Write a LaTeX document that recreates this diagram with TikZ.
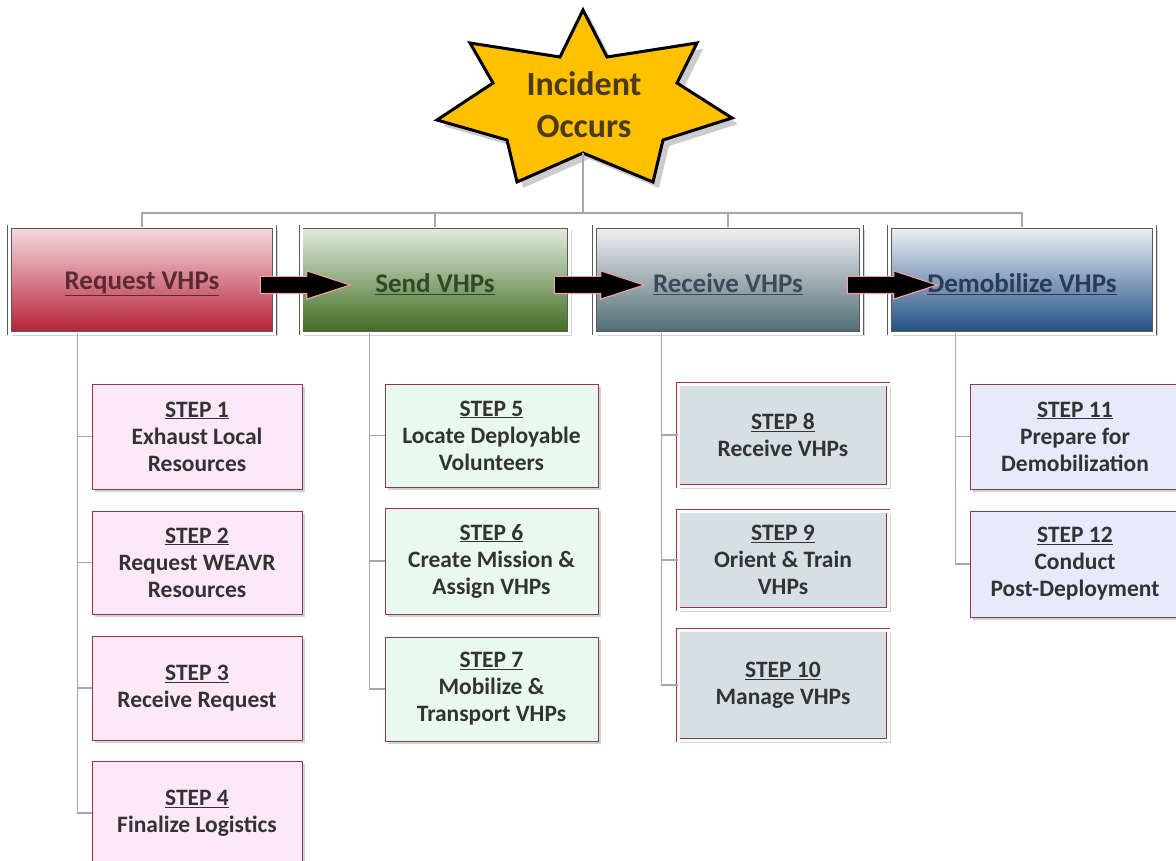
\documentclass[tikz,border=0pt]{standalone}
\usepackage{fontspec}
\setmainfont{Carlito}
\usetikzlibrary{shapes.arrows,shadows,calc}
\definecolor{stargold}{HTML}{FFC000}
\definecolor{startext}{HTML}{4A3B1C}
\definecolor{treegray}{HTML}{A8A8A8}
\definecolor{frame}{HTML}{5A5A5A}
\definecolor{stepborder}{HTML}{8E3A48}
\definecolor{steptext}{HTML}{333333}
\definecolor{reqtop}{HTML}{F6DCE1}\definecolor{reqbot}{HTML}{B51F37}\definecolor{reqtxt}{HTML}{5B2A33}
\definecolor{sndtop}{HTML}{E4EDE0}\definecolor{sndbot}{HTML}{3F6A1F}\definecolor{sndtxt}{HTML}{2F4A2A}
\definecolor{rcvtop}{HTML}{F0F2F4}\definecolor{rcvbot}{HTML}{4F6A74}\definecolor{rcvtxt}{HTML}{3C4A5E}
\definecolor{demtop}{HTML}{EDF1F6}\definecolor{dembot}{HTML}{1F4E82}\definecolor{demtxt}{HTML}{2C3A55}
\definecolor{fillA}{HTML}{FCE8F8}
\definecolor{fillB}{HTML}{E9F9EE}
\definecolor{fillC}{HTML}{D5DFE4}
\definecolor{fillD}{HTML}{E6EAFB}
\definecolor{arrowedge}{HTML}{E8A0A0}
\newcommand{\hdtext}[1]{\raisebox{-4pt}[\height][\depth]{\underline{#1}}}
\begin{document}
\begin{tikzpicture}[x=1pt,y=-1pt,
  tree/.style={draw=treegray,line width=1.2pt},
  header/.style={rectangle,minimum height=106pt,draw=frame,line width=0.8pt,
    double=white,double distance=3pt,
    drop shadow={shadow xshift=3pt,shadow yshift=-3pt,opacity=0.35},
    font=\bfseries\fontsize{27}{31}\selectfont},
  stepbox/.style={rectangle,minimum width=210pt,draw=stepborder,line width=0.8pt,
    drop shadow={shadow xshift=3pt,shadow yshift=-3pt,opacity=0.35},
    align=center,text=steptext,font=\bfseries\fontsize{23.5}{27}\selectfont},
  flowarrow/.style={single arrow,fill=black,draw=arrowedge,line width=1.2pt,
    minimum height=90pt,inner xsep=0pt,inner ysep=8pt,single arrow head extend=5.5pt,
    single arrow tip angle=36}
]
\useasboundingbox (0,0) rectangle (1176,861);
\fill[white] (0,0) rectangle (1176,861);

% star
\fill[black,opacity=0.2] (589,16) -- (613,63) -- (703,49) -- (683,89) -- (738,124) -- (669,146) -- (659,188) -- (589,159) -- (523,188) -- (513,146) -- (443,126) -- (499,89) -- (476,49) -- (566,63) -- cycle;
\draw[fill=stargold,line width=3pt,line join=miter]
  (583,10) -- (607,57) -- (697,43) -- (677,83) -- (732,118) -- (663,140) -- (653,182)
  -- (583,153) -- (517,182) -- (507,140) -- (437,120) -- (493,83) -- (470,43) -- (560,57) -- cycle;
\coordinate (starb) at (583,153);
\node[align=center,text=startext,font=\bfseries\fontsize{34}{42}\selectfont] (star) at (584,105) {Incident\\Occurs};

% header boxes
\node[header,minimum width=265pt,top color=reqtop,bottom color=reqbot,text=reqtxt] (req) at (142,280) {\hdtext{Request VHPs}};
\node[header,minimum width=268pt,top color=sndtop,bottom color=sndbot,text=sndtxt] (snd) at (435,280) {\hdtext{Send VHPs}};
\node[header,minimum width=267pt,top color=rcvtop,bottom color=rcvbot,text=rcvtxt] (rcv) at (728,280) {\hdtext{Receive VHPs}};
\node[header,minimum width=265pt,top color=demtop,bottom color=dembot,text=demtxt] (dem) at (1022,280) {\hdtext{Demobilize VHPs}};

% flow arrows
\node[flowarrow] (a1) at (292,285) {};
\node[flowarrow] (a2) at (586,285) {};
\node[flowarrow] (a3) at (879,285) {};

% tree from star
\coordinate (bus) at (0,213);
\draw[tree] (starb) -- (starb |- bus);
\draw[tree] (req.north) -- (req.north |- bus) -- (dem.north |- bus) -- (dem.north);
\draw[tree] (snd.north) -- (snd.north |- bus);
\draw[tree] (rcv.north) -- (rcv.north |- bus);

% steps column 1
\node[stepbox,fill=fillA,minimum height=105pt] (s1) at (197,436.5) {\underline{STEP 1}\\Exhaust Local\\Resources};
\node[stepbox,fill=fillA,minimum height=103pt] (s2) at (197,562.5) {\underline{STEP 2}\\Request WEAVR\\Resources};
\node[stepbox,fill=fillA,minimum height=104pt] (s3) at (197,688) {\underline{STEP 3}\\Receive Request};
\node[stepbox,fill=fillA,minimum height=104pt] (s4) at (197,813) {\underline{STEP 4}\\Finalize Logistics};
% column 2
\node[stepbox,fill=fillB,minimum width=213pt,minimum height=103pt] (s5) at (491.5,435.5) {\underline{STEP 5}\\Locate Deployable\\Volunteers};
\node[stepbox,fill=fillB,minimum width=213pt,minimum height=106pt] (s6) at (491.5,561) {\underline{STEP 6}\\Create Mission \&\\Assign VHPs};
\node[stepbox,fill=fillB,minimum width=213pt,minimum height=104pt] (s7) at (491.5,689) {\underline{STEP 7}\\Mobilize \&\\Transport VHPs};
% column 3
\node[stepbox,fill=fillC,double=white!92!fillC,double distance=3pt,minimum height=102pt] (s8) at (783,435) {\underline{STEP 8}\\Receive VHPs};
\node[stepbox,fill=fillC,double=white!92!fillC,double distance=3pt,minimum height=98pt] (s9) at (783,560) {\underline{STEP 9}\\Orient \& Train\\VHPs};
\node[stepbox,fill=fillC,double=white!92!fillC,double distance=3pt,minimum height=110pt] (s10) at (783,685) {\underline{STEP 10}\\Manage VHPs};
% column 4
\node[stepbox,fill=fillD,minimum height=105pt] (s11) at (1075,436.5) {\underline{STEP 11}\\Prepare for\\Demobilization};
\node[stepbox,fill=fillD,minimum height=106pt] (s12) at (1075,564) {\underline{STEP 12}\\Conduct\\Post-Deployment};

% column connectors
\coordinate (c1) at ([xshift=68pt]req.south west);
\coordinate (c2) at ([xshift=69pt]snd.south west);
\coordinate (c3) at ([xshift=67pt]rcv.south west);
\coordinate (c4) at ([xshift=66pt]dem.south west);
\draw[tree] (c1) |- (s4.west);
\draw[tree] (s1.west -| c1) -- (s1.west);
\draw[tree] (s2.west -| c1) -- (s2.west);
\draw[tree] (s3.west -| c1) -- (s3.west);
\draw[tree] (c2) |- (s7.west);
\draw[tree] (s5.west -| c2) -- (s5.west);
\draw[tree] (s6.west -| c2) -- (s6.west);
\draw[tree] (c3) |- (s10.west);
\draw[tree] (s8.west -| c3) -- (s8.west);
\draw[tree] (s9.west -| c3) -- (s9.west);
\draw[tree] (c4) |- (s12.west);
\draw[tree] (s11.west -| c4) -- (s11.west);
\end{tikzpicture}
\end{document}
